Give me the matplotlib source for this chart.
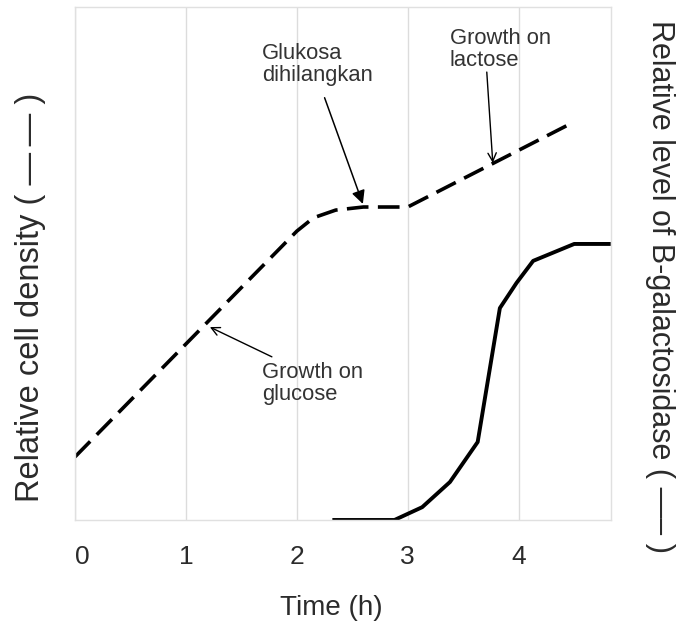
import matplotlib.pyplot as plt

# data (time in h, levels in relative units 0-100)
density_time = [0.0, 2.0, 2.15, 2.35, 2.6, 3.0, 4.5]
density_level = [12.3, 56.3, 58.9, 60.4, 61.0, 61.0, 77.6]

galact_time = [2.32, 2.88, 3.13, 3.38, 3.63, 3.83, 3.98, 4.13, 4.5, 4.83]
galact_level = [0.0, 0.0, 2.5, 7.4, 15.2, 41.3, 46.2, 50.5, 53.8, 53.8]

tick_values = [0, 1, 2, 3, 4]
tick_labels = ['0', '1', '2', '3', '4']

plt.rcParams['font.family'] = ['Liberation Sans', 'DejaVu Sans']

fig = plt.figure(figsize=(6.84, 6.28), dpi=100)
ax = fig.add_axes([0.1096, 0.172, 0.7834, 0.817])

# cell density (dashed) and B-galactosidase (solid)
dline, = ax.plot(density_time, density_level, color='black', lw=2.6,
                 solid_joinstyle='round', dash_capstyle='butt')
dline.set_dashes([6.0, 2.6])
ax.plot(galact_time, galact_level, color='black', lw=2.8,
        solid_joinstyle='round', solid_capstyle='butt')

ax.set_xlim(0, 4.83)
ax.set_ylim(0, 100)
ax.set_xticks(tick_values)
ax.set_xticklabels(tick_labels, fontsize=19, color='#2b2b2b')
ax.get_xticklabels()[0].set_horizontalalignment('left')
ax.set_yticks([])
ax.tick_params(axis='x', length=0, pad=18)
ax.grid(axis='x', color='#dcdcdc', lw=1)
for s in ax.spines.values():
    s.set_color('#e0e0e0')
    s.set_linewidth(1)

ax.set_xlabel('Time (h)', fontsize=20, color='#2b2b2b', va='center')
ax.xaxis.set_label_coords(0.479, -0.1715)

fig.text(0.044, 0.527, 'Relative cell density ( \u2014\u2009\u2014 )', rotation=90,
         fontsize=23.5, color='#2b2b2b', ha='center', va='center')
fig.text(0.965, 0.543, 'Relative level of B-galactosidase ( \u2014\u2013 )', rotation=-90,
         fontsize=22, color='#2b2b2b', ha='center', va='center')

# annotations
txt_kw = dict(fontsize=15.8, color='#333333', ha='left', va='top', linespacing=1.05)
ax.text(1.685, 93.0, 'Glukosa\ndihilangkan', **txt_kw)
ax.text(3.378, 95.9, 'Growth on\nlactose', **txt_kw)
ax.text(1.685, 30.8, 'Growth on\nglucose', **txt_kw)

ax.annotate('', xy=(2.595, 61.6), xytext=(2.25, 82.3),
            arrowprops=dict(arrowstyle='-|>,head_length=0.8,head_width=0.4',
                            color='black', lw=1.1, shrinkA=0, shrinkB=0))
ax.annotate('', xy=(3.766, 69.6), xytext=(3.712, 87.3),
            arrowprops=dict(arrowstyle='->,head_length=0.6,head_width=0.3',
                            color='black', lw=1.0, shrinkA=0, shrinkB=0))
ax.annotate('', xy=(1.216, 37.6), xytext=(1.775, 31.8),
            arrowprops=dict(arrowstyle='->,head_length=0.6,head_width=0.3',
                            color='black', lw=1.0, shrinkA=0, shrinkB=0))

fig.savefig('out.png', dpi=100)
